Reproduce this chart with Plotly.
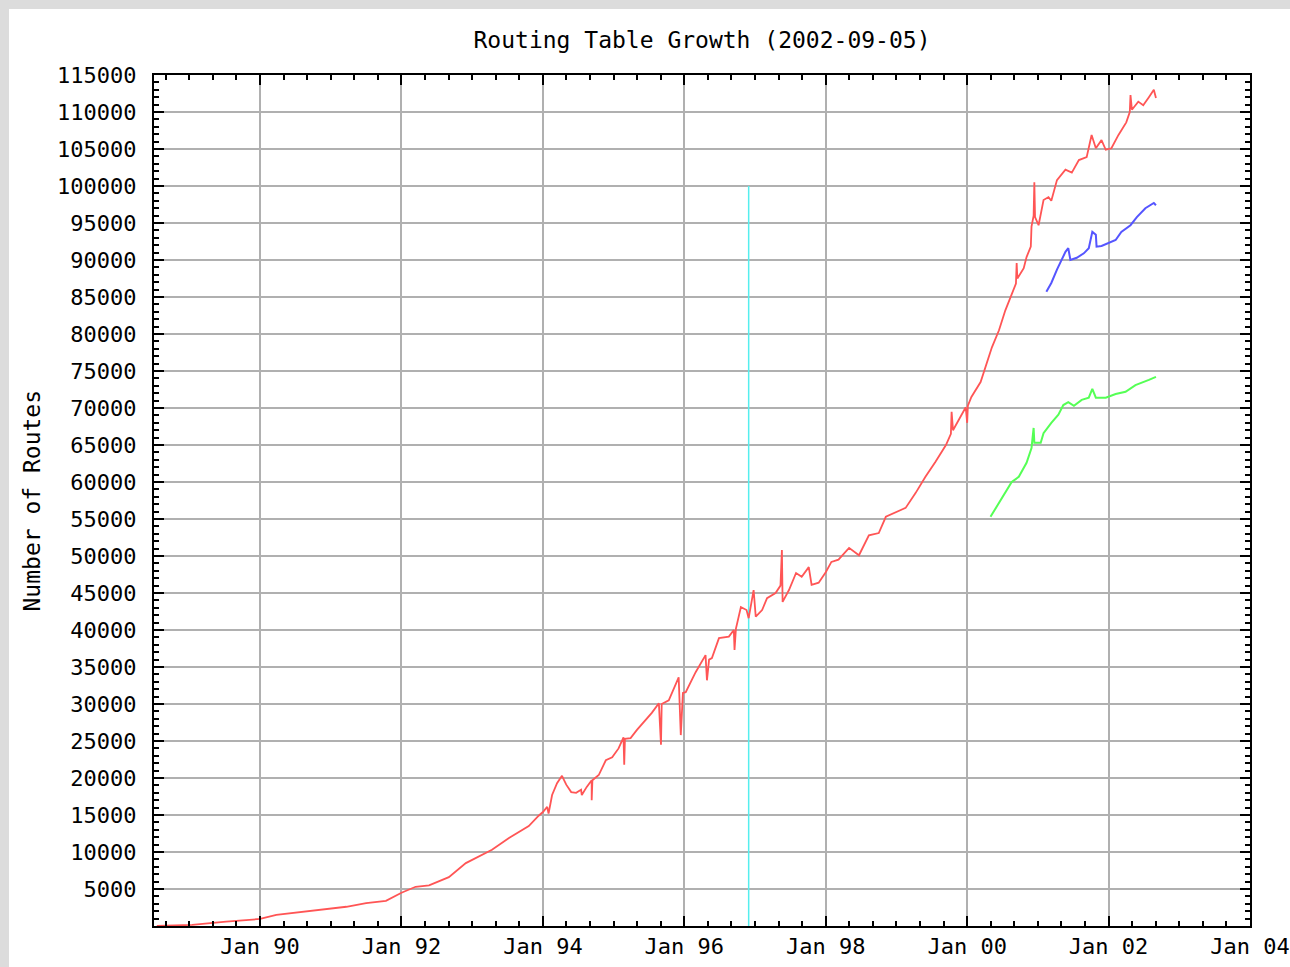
import plotly.graph_objects as go

# ---- data (decimal years, number of routes) ----
red_years = [1988.54, 1989.04, 1989.52, 1990.00, 1990.23, 1990.65, 1991.22, 1991.50, 1991.78, 1992.00,
             1992.20, 1992.39, 1992.67, 1992.91, 1993.28, 1993.52, 1993.80, 1993.94, 1994.00, 1994.06,
             1994.08, 1994.13, 1994.20, 1994.27, 1994.33, 1994.40, 1994.47, 1994.54, 1994.55, 1994.62,
             1994.69, 1994.69, 1994.70, 1994.79, 1994.89, 1994.98, 1995.07, 1995.14, 1995.15, 1995.16,
             1995.24, 1995.33, 1995.43, 1995.54, 1995.64, 1995.67, 1995.68, 1995.78, 1995.92, 1995.95,
             1995.98, 1996.02, 1996.16, 1996.30, 1996.32, 1996.35, 1996.39, 1996.49, 1996.63, 1996.70,
             1996.71, 1996.73, 1996.80, 1996.88, 1996.91, 1996.98, 1997.01, 1997.10, 1997.17, 1997.29,
             1997.36, 1997.38, 1997.39, 1997.48, 1997.58, 1997.66, 1997.76, 1997.80, 1997.90, 1998.00,
             1998.08, 1998.18, 1998.33, 1998.47, 1998.61, 1998.75, 1998.85, 1998.99, 1999.13, 1999.27,
             1999.41, 1999.55, 1999.70, 1999.77, 1999.78, 1999.80, 1999.88, 1999.98, 2000.00, 2000.01,
             2000.06, 2000.19, 2000.35, 2000.45, 2000.54, 2000.61, 2000.69, 2000.70, 2000.71, 2000.80,
             2000.84, 2000.90, 2000.91, 2000.94, 2000.95, 2000.96, 2001.01, 2001.08, 2001.15, 2001.19,
             2001.27, 2001.39, 2001.48, 2001.58, 2001.69, 2001.76, 2001.82, 2001.90, 2001.96, 2002.04,
             2002.14, 2002.25, 2002.30, 2002.31, 2002.33, 2002.42, 2002.49, 2002.57, 2002.64, 2002.67]
red_routes = [20, 150, 580, 950, 1500, 2000, 2600, 3100, 3400, 4500,
              5300, 5500, 6600, 8500, 10300, 11900, 13500, 14900, 15400, 16100,
              15200, 17700, 19300, 20300, 19100, 18100, 18000, 18400, 17700, 18800,
              19700, 17000, 19700, 20400, 22400, 22800, 24000, 25500, 21800, 25300,
              25400, 26500, 27600, 28800, 30100, 24500, 30000, 30500, 33600, 25800,
              31500, 31600, 34300, 36600, 33200, 36000, 36200, 38900, 39100, 40000,
              37300, 40200, 43100, 42700, 41600, 45400, 41800, 42700, 44300, 45000,
              46000, 50800, 43800, 45400, 47700, 47200, 48500, 46100, 46400, 47800,
              49200, 49500, 51100, 50100, 52800, 53100, 55300, 55900, 56500, 58500,
              60700, 62700, 65000, 66500, 69500, 67000, 68400, 70100, 68000, 70300,
              71500, 73500, 78200, 80500, 83200, 85000, 86800, 89600, 87500, 88900,
              90400, 91800, 94500, 96000, 100500, 95800, 94700, 98100, 98500, 98000,
              100800, 102200, 101800, 103500, 103900, 106900, 105100, 106200, 104900, 105100,
              106900, 108600, 110000, 112300, 110300, 111400, 110900, 112000, 113000, 111900]

blue_years = [2001.12, 2001.19, 2001.27, 2001.34, 2001.39, 2001.43, 2001.46, 2001.55, 2001.65, 2001.72,
              2001.77, 2001.82, 2001.83, 2001.90, 2002.00, 2002.10, 2002.18, 2002.31, 2002.40, 2002.52,
              2002.64, 2002.67]
blue_routes = [85700, 86900, 88700, 90000, 91100, 91600, 90000, 90300, 90900, 91600,
               93800, 93400, 91800, 91900, 92300, 92700, 93800, 94700, 95800, 97000,
               97700, 97400]

green_years = [2000.33, 2000.45, 2000.56, 2000.63, 2000.73, 2000.84, 2000.91, 2000.94, 2000.95, 2001.04,
               2001.08, 2001.19, 2001.29, 2001.36, 2001.43, 2001.51, 2001.62, 2001.72, 2001.77, 2001.82,
               2001.96, 2002.10, 2002.24, 2002.38, 2002.57, 2002.67]
green_routes = [55300, 57200, 58900, 60000, 60700, 62600, 64600, 67300, 65300, 65300,
                66600, 68000, 69100, 70400, 70800, 70300, 71100, 71400, 72600, 71400,
                71400, 71900, 72200, 73100, 73800, 74200]

marker_year = [1996.91, 1996.91]
marker_routes = [0, 100000]

x_tick_vals = [1990, 1992, 1994, 1996, 1998, 2000, 2002, 2004]
x_tick_text = ["Jan 90", "Jan 92", "Jan 94", "Jan 96", "Jan 98", "Jan 00", "Jan 02", "Jan 04"]
y_tick_vals = list(range(5000, 115001, 5000))
y_tick_text = [str(v) for v in y_tick_vals]

FONT = "DejaVu Sans Mono"

fig = go.Figure()
fig.add_trace(go.Scatter(x=marker_year, y=marker_routes, mode="lines",
                         line=dict(color="#55eeee", width=1.5), showlegend=False))
fig.add_trace(go.Scatter(x=red_years, y=red_routes, mode="lines",
                         line=dict(color="#ff5555", width=1.8), showlegend=False))
fig.add_trace(go.Scatter(x=blue_years, y=blue_routes, mode="lines",
                         line=dict(color="#5555ff", width=2), showlegend=False))
fig.add_trace(go.Scatter(x=green_years, y=green_routes, mode="lines",
                         line=dict(color="#55ff55", width=2), showlegend=False))

axis_common = dict(
    showline=True, linecolor="black", linewidth=2, mirror="allticks",
    ticks="inside", ticklen=10, tickwidth=2, tickcolor="black",
    showgrid=True, gridcolor="#b0b0b0", gridwidth=2, zeroline=False,
    automargin=False,
    tickfont=dict(family=FONT, size=22, color="black"),
)

fig.update_xaxes(range=[1988.5, 2004.0], tickmode="array", tickvals=x_tick_vals,
                 ticktext=x_tick_text, ticklabelstandoff=0,
                 minor=dict(tickmode="linear", tick0=1990, dtick=1/3, ticks="inside",
                            ticklen=5, tickwidth=2, tickcolor="black", showgrid=False),
                 **axis_common)
fig.update_yaxes(range=[0, 115000], tickmode="array", tickvals=y_tick_vals,
                 ticktext=y_tick_text, ticklabelstandoff=11,
                 minor=dict(tickmode="linear", tick0=0, dtick=1000, ticks="inside",
                            ticklen=5, tickwidth=2, tickcolor="black", showgrid=False),
                 **axis_common)

W, H = 1290, 967
L, R, T, B = 154, 40, 75, 41
PW, PH = W - L - R, H - T - B
fig.update_layout(
    width=W, height=H,
    margin=dict(l=L, r=R, t=T, b=B, autoexpand=False),
    paper_bgcolor="#dcdcdc", plot_bgcolor="white",
    hovermode=False,
    title=dict(text="Routing Table Growth (2002-09-05)", x=0.5, xref="paper",
               y=1 - 40 / H, yref="container", yanchor="middle", xanchor="center",
               font=dict(family=FONT, size=23, color="black")),
    shapes=[dict(type="rect", xref="paper", yref="paper",
                 x0=(9 - L) / PW, x1=(W + 20 - L) / PW,
                 y0=-(B + 20) / PH, y1=(H - 9 - B) / PH,
                 fillcolor="white", line=dict(width=0), layer="below")],
    annotations=[dict(text="Number of Routes", xref="paper", yref="paper",
                      x=(31 - L) / PW, y=0.5, textangle=-90, showarrow=False,
                      xanchor="center", yanchor="middle",
                      font=dict(family=FONT, size=23, color="black"))],
)

fig.write_html("out.html", config={"displayModeBar": False},
               post_script="document.body.style.margin='0';document.body.style.overflow='hidden';")
